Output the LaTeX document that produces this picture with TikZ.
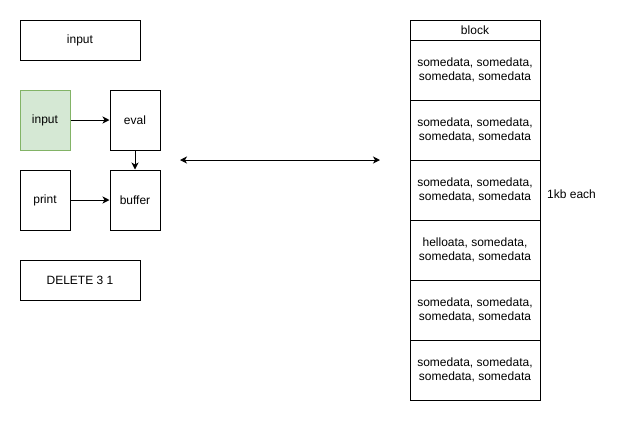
\documentclass[tikz,border=0pt]{standalone}
\usepackage{fontspec}
\setmainfont{Liberation Sans}
\usetikzlibrary{arrows.meta}
\begin{document}
\begin{tikzpicture}[x=1pt,y=-1pt,
  box/.style={draw=black,line width=1pt,fill=white,inner sep=0pt,align=center,
    font=\fontsize{12pt}{14.5pt}\selectfont},
  greenbox/.style={box,draw=green!50!black!55!white,fill=green!12!gray!8},
  link/.style={line width=1pt,-{Stealth[length=7pt,width=7pt,inset=2pt]}},
  twoway/.style={line width=1pt,{Stealth[length=7pt,width=7pt,inset=2pt]}-{Stealth[length=7pt,width=7pt,inset=2pt]}},
  lbl/.style={font=\fontsize{12pt}{14.5pt}\selectfont,inner sep=0pt,anchor=west}]
\definecolor{gfill}{HTML}{D5E8D4}
\definecolor{gline}{HTML}{82B366}
\useasboundingbox (0,0) rectangle (630,440);
\fill[white] (0,0) rectangle (630,440);

% left column
\node[box,minimum width=120pt,minimum height=40pt] (intop) at (80,40) {input};
\node[box,draw=gline,fill=gfill,minimum width=50pt,minimum height=60pt] (inp) at (45,120) {input};
\node[box,minimum width=50pt,minimum height=60pt] (eval) at (135,120) {eval};
\node[box,minimum width=50pt,minimum height=60pt] (print) at (45,200) {print};
\node[box,minimum width=50pt,minimum height=60pt] (buf) at (135,200) {buffer};
\node[box,minimum width=120pt,minimum height=40pt] (del) at (80,280) {DELETE 3 1};

\draw[link] (inp) -- (eval);
\draw[link] (eval) -- (buf);
\draw[link] (print) -- (buf);

% link between the two sides
\coordinate (la) at (180,160);
\coordinate (ra) at (380,160);
\draw[twoway] (la) -- (ra);

% block of rows
\node[box,minimum width=130pt,minimum height=20pt] (hdr) at (475,30) {block};
\node[box,minimum width=130pt,minimum height=60pt] (r1) at (475,70) {somedata, somedata,\\somedata, somedata};
\node[box,minimum width=130pt,minimum height=60pt] (r2) at (475,130) {somedata, somedata,\\somedata, somedata};
\node[box,minimum width=130pt,minimum height=60pt] (r3) at (475,190) {somedata, somedata,\\somedata, somedata};
\node[box,minimum width=130pt,minimum height=60pt] (r4) at (475,250) {helloata, somedata,\\somedata, somedata};
\node[box,minimum width=130pt,minimum height=60pt] (r5) at (475,310) {somedata, somedata,\\somedata, somedata};
\node[box,minimum width=130pt,minimum height=60pt] (r6) at (475,370) {somedata, somedata,\\somedata, somedata};

\node[lbl] (each) at (547,194) {1kb each};
\end{tikzpicture}
\end{document}
